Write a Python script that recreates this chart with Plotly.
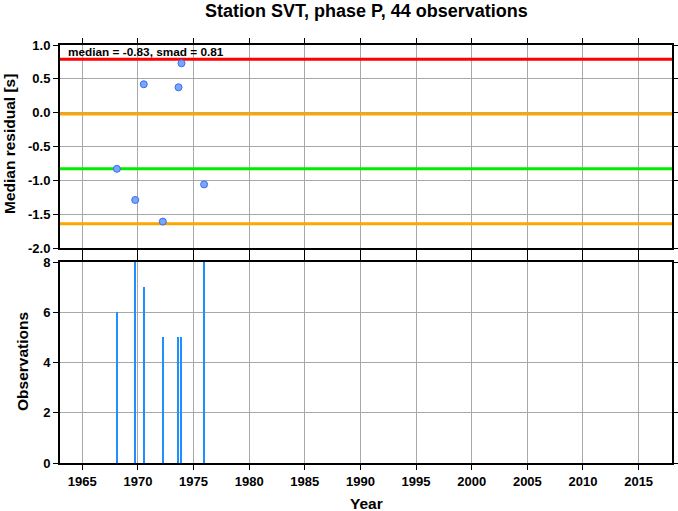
import plotly.graph_objects as go
from plotly.subplots import make_subplots

# Data
years = [1968.11, 1969.76, 1970.53, 1972.24, 1973.65, 1973.92, 1975.95]
residuals = [-0.83, -1.29, 0.42, -1.61, 0.375, 0.73, -1.06]
counts = [6, 8, 7, 5, 5, 5, 8]

median = -0.83
smad = 0.81
upper2 = 0.79   # median + 2*smad (red)
upper1 = -0.02  # median + smad (orange)
lower1 = -1.64  # median - smad (orange)

title_text = "Station SVT, phase P, 44 observations"
x_ticks = [1965, 1970, 1975, 1980, 1985, 1990, 1995, 2000, 2005, 2010, 2015]
y1_ticks = [1.0, 0.5, 0.0, -0.5, -1.0, -1.5, -2.0]
y2_ticks = [0, 2, 4, 6, 8]

FONT = "Liberation Sans"
W, H = 678, 511
L, R, T, B = 60, 6, 45, 48
PH = H - T - B  # plot height in px

fig = make_subplots(rows=2, cols=1, shared_xaxes=False, vertical_spacing=0.0)

xr = [1963, 2018]

# Horizontal reference lines
for val, col in [(upper2, "#FF0000"), (upper1, "#FFA500"), (median, "#00EE00"), (lower1, "#FFA500")]:
    fig.add_trace(go.Scatter(x=xr, y=[val, val], mode="lines",
                             line=dict(color=col, width=3), hoverinfo="skip"), row=1, col=1)

fig.add_trace(go.Scatter(x=years, y=residuals, mode="markers",
                         marker=dict(size=7, color="#7AA5FA",
                                     line=dict(color="#3A6CF0", width=1))), row=1, col=1)

fig.add_trace(go.Bar(x=years, y=counts, width=0.1, marker=dict(color="#1E8FFF", line=dict(width=0))),
              row=2, col=1)

axis_common = dict(
    showline=True, linecolor="black", linewidth=2, mirror="ticks",
    ticks="outside", ticklen=5, tickcolor="black", tickwidth=1,
    showgrid=True, gridcolor="#A8A8A8", gridwidth=1, zeroline=False, automargin=False,
    tickfont=dict(family=FONT, size=13, color="black"),
)

fig.update_xaxes(range=xr, tickvals=x_ticks, **axis_common)
fig.update_xaxes(showticklabels=False, row=1, col=1)
fig.update_xaxes(ticktext=[f"<b>{t}</b>" for t in x_ticks], row=2, col=1)

fig.update_yaxes(**axis_common)
fig.update_yaxes(range=[-2.0, 1.0], tickvals=y1_ticks,
                 ticktext=[f"<b>{t:.1f}</b>" for t in y1_ticks], row=1, col=1)
fig.update_yaxes(range=[0, 8], tickvals=y2_ticks,
                 ticktext=[f"<b>{t}</b>" for t in y2_ticks], row=2, col=1)

fig.update_layout(
    width=W, height=H,
    margin=dict(l=L, r=R, t=T, b=B, autoexpand=False),
    paper_bgcolor="white", plot_bgcolor="white",
    showlegend=False, bargap=0,
    xaxis=dict(domain=[0, 1]),
    xaxis2=dict(domain=[0, 1]),
    yaxis=dict(domain=[(463 - 248) / PH, 1]),
    yaxis2=dict(domain=[0, (463 - 262) / PH]),
)

def px_x(x):
    return (x - L) / (W - L - R)

def px_y(y):
    return (H - B - y) / PH

# Title
fig.add_annotation(xref="paper", yref="paper", x=px_x(366), y=px_y(11), xanchor="center", yanchor="middle",
                   text=f"<b>{title_text}</b>", showarrow=False,
                   font=dict(family=FONT, size=18, color="black"))
# Axis titles
fig.add_annotation(xref="paper", yref="paper", x=px_x(366), y=px_y(503), xanchor="center", yanchor="middle",
                   text="<b>Year</b>", showarrow=False, font=dict(family=FONT, size=15.5, color="black"))
fig.add_annotation(xref="paper", yref="paper", x=px_x(9), y=px_y(144), xanchor="center", yanchor="middle",
                   text="<b>Median residual [s]</b>", textangle=-90, showarrow=False,
                   font=dict(family=FONT, size=15.5, color="black"))
fig.add_annotation(xref="paper", yref="paper", x=px_x(22), y=px_y(362), xanchor="center", yanchor="middle",
                   text="<b>Observations</b>", textangle=-90, showarrow=False,
                   font=dict(family=FONT, size=15.5, color="black"))
# Stats label
fig.add_annotation(xref="paper", yref="paper", x=px_x(66), y=px_y(52.5), xanchor="left", yanchor="middle",
                   text=f"<b>median = {median:.2f}, smad = {smad:.2f}</b>", showarrow=False,
                   font=dict(family=FONT, size=11.8, color="black"))

fig.write_html("out.html", config={"displayModeBar": False},
               post_script="document.body.style.margin='0';document.body.style.overflow='hidden';")
